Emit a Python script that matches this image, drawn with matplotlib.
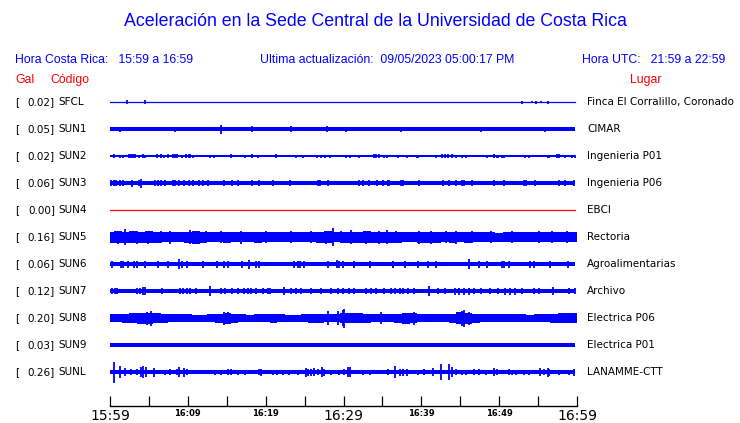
import matplotlib.pyplot as plt
import numpy as np

# estaciones (de arriba hacia abajo)
codes = ['SFCL', 'SUN1', 'SUN2', 'SUN3', 'SUN4', 'SUN5', 'SUN6', 'SUN7', 'SUN8', 'SUN9', 'SUNL']
gal = [0.02, 0.05, 0.02, 0.06, 0.00, 0.16, 0.06, 0.12, 0.20, 0.03, 0.26]
places = ['Finca El Corralillo, Coronado', 'CIMAR', 'Ingenieria P01', 'Ingenieria P06', 'EBCI',
          'Rectoria', 'Agroalimentarias', 'Archivo', 'Electrica P06', 'Electrica P01', 'LANAMME-CTT']
colors = ['blue', 'blue', 'blue', 'blue', 'red', 'blue', 'blue', 'blue', 'blue', 'blue', 'blue']

# semi-ancho base de cada traza (px)
base = [0, 1.8, 0.6, 2.0, 0, None, 2.3, 2.0, None, 1.8, 1.8]

# envolventes minuto a minuto (px) para las trazas mas ruidosas
minutes = np.arange(61)
env_sun5 = [5.5, 6, 5.5, 6, 5.5, 6, 5.5, 5, 5, 5, 5.5, 6.5, 5.5, 5, 5, 5.5, 5, 5, 5, 5.5,
            5, 5, 5, 5, 5, 5, 5, 5.5, 6, 5, 5.5, 5.5, 5.5, 6, 5.5, 5.5, 5.5, 5.5, 5, 5,
            5.5, 5.5, 5.5, 5, 5.5, 5, 5.5, 5, 5, 5, 4.5, 5, 5, 5, 5, 5, 5, 5, 5, 5, 5]
env_sun8 = [4, 4, 4.5, 5, 5.5, 5.5, 5, 4.5, 4, 4, 4, 3.5, 3.5, 4, 4.5, 5.5, 4.5, 4, 3.5, 4,
            4, 4.5, 4, 3.5, 3.5, 4, 4.5, 4.5, 4, 4, 5, 5, 5, 4.5, 4, 4, 4, 4.5, 5.5, 5,
            4, 4, 4, 4, 4.5, 6, 5.5, 4.5, 4, 4, 4, 4, 4, 4, 3.5, 4, 4, 4.5, 5, 5, 5]
envelopes = {5: env_sun5, 8: env_sun8}

# picos: (minuto desde 15:59, semi-amplitud px)
bursts_t = {
    0: [2.2, 4.5, 52.9, 54.2, 54.7, 55.4, 56.3],
    1: [1.3, 8.4, 14.3, 18.3, 23.2, 27.9, 30.3, 37.4, 47.7, 55.9],
    2: [0.5, 1.3, 1.7, 2.5, 2.7, 3.0, 3.2, 3.7, 4.3, 4.5, 6.1, 6.5, 7.0, 7.5, 8.1, 8.4, 8.6, 9.3,
        9.8, 10.1, 10.3, 10.7, 12.9, 13.3, 15.6, 17.3, 18.2, 19.0, 21.3, 23.9, 24.8, 26.6, 27.1,
        27.6, 28.3, 30.3, 30.8, 32.0, 33.9, 34.2, 34.5, 35.2, 35.6, 37.0, 38.1, 39.4, 39.6, 41.9,
        42.6, 43.0, 43.4, 43.9, 44.5, 45.2, 45.8, 48.4, 49.3, 49.7, 49.9, 50.3, 50.6, 53.3, 53.8,
        56.3, 56.4, 57.4, 57.7, 58.5, 59.4, 59.8],
    3: [0.1, 0.5, 0.8, 1.3, 1.7, 2.8, 3.7, 4.0, 5.8, 6.2, 6.5, 7.1, 8.1, 8.4, 8.9, 9.5, 10.1, 10.6,
        11.4, 12.0, 12.6, 14.6, 15.7, 16.4, 18.2, 19.2, 21.0, 23.1, 26.7, 27.0, 28.0, 32.0, 32.5,
        33.3, 34.3, 35.1, 35.7, 35.9, 37.4, 37.7, 39.7, 42.8, 43.6, 44.5, 45.2, 45.5, 46.5, 49.3,
        50.6, 53.2, 53.5, 54.6, 57.7, 58.5, 59.6],
    5: [1.9, 4.9, 10.3, 10.7, 28.6, 31.0, 34.5, 35.6, 39.7, 44.4, 55.1, 0.6, 1.0, 2.6, 3.5, 6.5,
        7.7, 12.3, 14.2, 16.8, 20.0, 23.2, 25.8, 27.7, 29.7, 32.9, 36.8, 41.3, 43.2, 46.5, 49.0,
        51.6, 56.8, 58.7],
    6: [0.3, 1.4, 1.7, 2.3, 3.1, 3.5, 4.5, 6.2, 7.4, 8.9, 9.2, 9.9, 12.0, 13.8, 14.6, 15.2, 17.0,
        17.9, 18.7, 19.2, 23.6, 24.1, 24.4, 24.9, 28.0, 29.2, 29.4, 29.9, 31.4, 33.4, 36.3, 36.4,
        37.9, 39.6, 40.9, 41.9, 46.1, 47.4, 48.4, 50.3, 50.6, 51.2, 53.9, 54.5, 56.5, 58.8],
    7: [0.3, 0.6, 0.9, 3.5, 3.9, 4.3, 4.5, 6.7, 9.0, 9.4, 9.9, 10.3, 11.0, 12.9, 14.2, 14.8, 15.7,
        16.4, 17.2, 17.7, 18.1, 18.8, 19.7, 20.3, 20.6, 22.3, 23.2, 23.9, 24.5, 25.8, 27.1, 28.4,
        29.3, 29.9, 30.7, 31.4, 32.9, 33.5, 34.2, 35.2, 36.1, 36.6, 37.2, 37.7, 38.3, 39.0, 41.0,
        42.2, 43.0, 44.3, 44.9, 45.5, 46.1, 46.8, 47.7, 48.8, 49.9, 50.7, 51.4, 52.0, 52.9, 54.5,
        55.1, 56.9, 59.0, 59.7],
    8: [4.8, 5.3, 14.6, 15.2, 28.0, 29.3, 29.9, 30.1, 34.8, 39.0, 45.2, 45.5, 46.1],
    10: [0.5, 1.3, 1.9, 2.7, 3.5, 4.0, 4.3, 4.6, 5.7, 7.1, 7.7, 8.6, 8.9, 9.5, 9.9, 13.5, 14.2,
         15.2, 15.6, 16.5, 17.4, 19.1, 19.4, 20.9, 21.5, 22.2, 23.0, 24.1, 25.2, 25.5, 25.8, 26.2,
         26.7, 27.2, 27.5, 28.4, 29.4, 30.1, 30.6, 30.8, 32.5, 33.4, 35.7, 36.6, 37.2, 37.7, 38.1,
         39.6, 40.3, 40.4, 41.5, 42.5, 43.5, 43.9, 44.4, 45.2, 45.7, 46.8, 47.4, 48.3, 49.4, 49.7,
         51.2, 51.7, 52.1, 53.2, 53.8, 55.2, 55.7, 56.3, 56.4, 57.7, 59.0, 59.6],
}
bursts_a = {
    0: [2, 2, 1.5, 1, 1.5, 1, 1.5],
    1: [2.5, 2.5, 4.5, 3, 3, 3, 2.5, 2.5, 2.5, 2.5],
    2: [2, 1.5, 1.5, 2, 2, 2, 2, 1.5, 2, 1.5, 2, 2, 1.5, 2, 2, 2, 2, 1.5,
        2, 2, 2, 1.5, 1.5, 1.5, 2, 1.5, 2, 1.5, 2, 1.5, 1.5, 1.5, 1.5,
        1.5, 1.5, 1.5, 1.5, 1.5, 2, 2, 2, 1.5, 1.5, 1.5, 1.5, 1.5, 1.5, 1.5,
        2, 2, 2, 2, 1.5, 1.5, 1.5, 1.5, 2, 1.5, 1.5, 1.5, 1.5, 1.5, 1.5,
        1.5, 1.5, 2, 2, 1.5, 1.5, 1.5],
    3: [3, 3, 3, 3, 3, 3.5, 3, 4.5, 3, 3, 3, 3, 3, 3, 3, 3, 3, 3,
        3, 3, 3, 3, 3, 3, 3, 3, 3, 3, 3, 3, 3, 3, 3,
        3, 3, 3, 3, 3, 3, 3, 3, 3, 3, 3, 3, 3, 3, 3,
        3, 3, 3, 3, 3, 3, 3],
    5: [8, 6.5, 7, 6.5, 9, 7, 6.5, 7, 6.5, 6.5, 6, 6, 6.5, 6, 6.5, 6,
        6.5, 6, 6, 6.5, 6, 6, 6, 6.5, 6, 6.5, 6, 6.5, 6, 6, 6,
        6, 6, 6],
    6: [3.5, 3.5, 3.5, 3.5, 3.5, 3.5, 3.5, 3.5, 3.5, 5, 3.5, 3.5, 3.5, 3.5, 3.5, 3.5, 3.5,
        4.5, 3.5, 3.5, 3.5, 3.5, 3.5, 3.5, 3.5, 4, 3.5, 3.5, 3.5, 3.5, 3.5, 3.5,
        3.5, 3.5, 3.5, 3.5, 5, 3.5, 3.5, 3.5, 3.5, 3.5, 3.5, 3.5, 3.5, 3.5],
    7: [3, 3, 3, 3, 3, 4, 4, 3, 3, 3, 3, 3, 3, 5, 3, 3, 3,
        3, 3, 3, 3, 3, 3, 3, 3, 4, 3, 3, 3, 3, 3, 3,
        3, 3, 3, 3, 3, 3, 3, 3, 3, 3, 3, 3, 3, 3, 5,
        3, 3, 3.5, 3.5, 3.5, 3.5, 3, 3, 3, 3, 3.5, 3.5, 3.5, 3, 3,
        3, 4, 3, 3],
    8: [6.5, 7.5, 6.5, 6, 7, 7, 8, 9.5, 6, 6.5, 7.5, 8.5, 6.5],
    10: [10.5, 6, 4, 3, 3, 5, 6, 5, 4.5, 2.5, 3, 3, 5, 4.5, 3, 2.5, 2.5,
         3, 3, 2.5, 2.5, 3, 3.5, 2.5, 2.5, 2.5, 2.5, 2.5, 4.5, 3.5, 3.5, 4,
         3, 5, 3.5, 2.5, 2.5, 3, 5, 5, 2.5, 2.5, 3, 6, 3.5, 3.5, 3.5,
         2.5, 3, 3, 4, 8, 8, 5, 3, 2.5, 2.5, 3, 3, 2.5, 4, 3,
         3, 2.5, 2.5, 2.5, 2.5, 4, 3, 4.5, 3.5, 2.5, 2.5, 3.5],
}

time_labels = ['15:59', '', '16:09', '', '16:19', '', '16:29', '', '16:39', '', '16:49', '', '16:59']

W, H = 740, 423
fig = plt.figure(figsize=(W / 100, H / 100), dpi=100)

def px(x, y):
    return x / W, 1 - y / H

# area de trazas (coordenadas en px)
ax = fig.add_axes([110 / W, (H - 406) / H, 467 / W, (406 - 88) / H])
ax.set_xlim(0, 60)
ax.set_ylim(304, -14)
row = 27

for i, code in enumerate(codes):
    off = i * row
    c = colors[i]
    if i in envelopes:
        e = np.array(envelopes[i])
        ax.fill_between(minutes, off - e, off + e, step='mid', color=c, lw=0)
    elif base[i]:
        ax.fill_between([0, 59.8], off - base[i], off + base[i], color=c, lw=0)
    else:
        ax.plot([0, 59.8], [off, off], color=c, lw=0.9)
    if i in bursts_t:
        t = np.array(bursts_t[i])
        a = np.array(bursts_a[i])
        ax.vlines(t, off - a, off + a, color=c, lw=1.3)

for s in ['top', 'left', 'right']:
    ax.spines[s].set_visible(False)
ax.spines['bottom'].set_linewidth(1.0)
ax.set_yticks([])
ax.set_xticks(np.arange(0, 61, 5))
ax.set_xticklabels(time_labels)
ax.tick_params(axis='x', direction='in', length=7, width=0.9, pad=2)
for k, lab in enumerate(ax.get_xticklabels()):
    if k in (0, 6, 12):
        lab.set_fontsize(10)
    else:
        lab.set_fontsize(6)
        lab.set_fontweight('bold')

# textos
sans = ['Liberation Sans', 'DejaVu Sans']
fs = 8.8
fig.text(*px(375, 22), 'Aceleración en la Sede Central de la Universidad de Costa Rica',
         ha='center', va='center', color='blue', fontsize=12.8, family=sans)
fig.text(*px(15, 60), 'Hora Costa Rica:   15:59 a 16:59', ha='left', va='center',
         color='blue', fontsize=fs, family=sans)
fig.text(*px(260, 60), 'Ultima actualización:  09/05/2023 05:00:17 PM', ha='left', va='center',
         color='blue', fontsize=fs, family=sans)
fig.text(*px(725, 60), 'Hora UTC:   21:59 a 22:59', ha='right', va='center',
         color='blue', fontsize=fs, family=sans)
fig.text(*px(15, 80), 'Gal', ha='left', va='center', color='red', fontsize=fs, family=sans)
fig.text(*px(50, 80), 'Código', ha='left', va='center', color='red', fontsize=fs, family=sans)
fig.text(*px(630, 80), 'Lugar', ha='left', va='center', color='red', fontsize=fs, family=sans)

for i, code in enumerate(codes):
    y = 102 + i * row
    fig.text(*px(15, y), '[', ha='left', va='center', fontsize=7.5)
    fig.text(*px(55, y), f'{gal[i]:.2f}]', ha='right', va='center', fontsize=7.5)
    fig.text(*px(58, y), code, ha='left', va='center', fontsize=7.5)
    fig.text(*px(587, y), places[i], ha='left', va='center', fontsize=7.5)

fig.savefig('out.png', dpi=100)
